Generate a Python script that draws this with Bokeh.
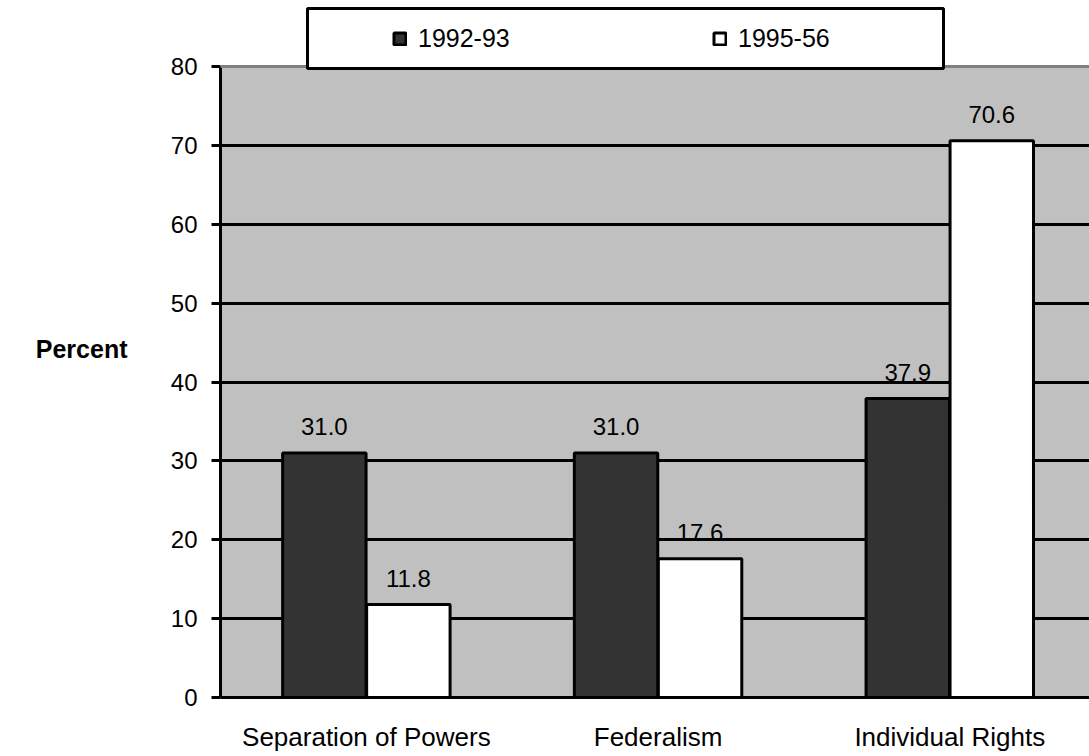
from bokeh.plotting import figure
from bokeh.models import (Range1d, FixedTicker, ColumnDataSource, Legend, LegendItem,
                          Span, BoxAnnotation, LinearAxis)
from bokeh.core.properties import value
from bokeh.embed import file_html
from bokeh.resources import INLINE
import numpy as np

categories = ["Separation of Powers", "Federalism", "Individual Rights"]
series_names = ["1992-93", "1995-56"]
values_9293 = [31.0, 31.0, 37.9]
values_9556 = [11.8, 17.6, 70.6]
y_ticks = [0, 10, 20, 30, 40, 50, 60, 70, 80]

FONT = "Liberation Sans"
xs = np.arange(len(categories)) + 0.5
off = 0.144
bw = 0.286
ymax = y_ticks[-1]
y_top = ymax + 66 / 7.8875   # frame extends above the 80 line to hold the legend

src = ColumnDataSource(dict(
    x1=xs - off, x2=xs + off,
    v1=values_9293, v2=values_9556,
    t1=["%.1f" % v for v in values_9293],
    t2=["%.1f" % v for v in values_9556],
))

p = figure(width=1089, height=756, x_range=Range1d(0, 2.979), y_range=Range1d(0, y_top),
           output_backend="svg", toolbar_location=None,
           min_border_left=220, min_border_top=0, min_border_bottom=59, min_border_right=0)
p.background_fill_color = "white"
p.border_fill_color = "white"
p.outline_line_color = None

# gray plot area from 0 to 80
p.add_layout(BoxAnnotation(bottom=0, top=ymax, fill_color="#c0c0c0", fill_alpha=1.0,
                           line_color=None, line_alpha=0, level="image"))

# grid
p.xgrid.visible = False
p.ygrid.ticker = FixedTicker(ticks=y_ticks[1:-1])
p.ygrid.grid_line_color = "black"
p.ygrid.grid_line_width = 3
p.add_layout(Span(location=ymax, dimension="width", line_color="#808080", line_width=3))

# y axis
ya = p.yaxis[0]
ya.ticker = FixedTicker(ticks=y_ticks)
ya.bounds = (0, ymax)
ya.axis_line_width = 3
ya.major_tick_line_width = 3
ya.major_tick_out = 9
ya.major_tick_in = 0
ya.minor_tick_line_color = None
ya.major_label_standoff = 14
ya.major_label_text_font = FONT
ya.major_label_text_font_size = "24px"
ya.major_label_text_color = "black"

# axis carrying only the "Percent" title
ta = LinearAxis(axis_label="Percent",
                axis_label_orientation="horizontal",
                axis_label_text_font=FONT, axis_label_text_font_size="25px",
                axis_label_text_font_style="bold", axis_label_text_color="black",
                axis_label_standoff=40,
                axis_line_color=None, major_tick_line_color=None,
                minor_tick_line_color=None, major_label_text_font_size="0px",
                ticker=FixedTicker(ticks=[]))
p.add_layout(ta, "left")

# x axis
xa = p.xaxis[0]
xa.ticker = FixedTicker(ticks=list(xs))
xa.major_label_overrides = {float(x): c for x, c in zip(xs, categories)}
xa.axis_line_width = 3
xa.major_tick_line_color = None
xa.minor_tick_line_color = None
xa.major_tick_out = 0
xa.major_tick_in = 0
xa.major_label_standoff = 24
xa.major_label_text_font = FONT
xa.major_label_text_font_size = "26px"
xa.major_label_text_color = "black"

r1 = p.vbar(x="x1", top="v1", width=bw, bottom=0, source=src,
            fill_color="#333333", line_color="black", line_width=3)
r2 = p.vbar(x="x2", top="v2", width=bw, bottom=0, source=src,
            fill_color="white", line_color="black", line_width=3)

for xcol, ycol, tcol in [("x1", "v1", "t1"), ("x2", "v2", "t2")]:
    p.text(x=xcol, y=ycol, text=tcol, source=src, text_align="center",
           text_baseline="alphabetic", y_offset=-26,
           text_font=value(FONT), text_font_size="24px", text_color="black")

# legend box
p.add_layout(BoxAnnotation(left=87, right=723, bottom=629, top=689,
                           left_units="screen", right_units="screen",
                           bottom_units="screen", top_units="screen",
                           fill_color="white", fill_alpha=1.0,
                           line_color="black", line_alpha=1.0, line_width=3))

legend = Legend(items=[LegendItem(label=series_names[0], renderers=[r1]),
                       LegendItem(label=series_names[1], renderers=[r2])],
                orientation="horizontal", location=(172, 644),
                glyph_width=15, glyph_height=15, label_height=30, label_width=130,
                label_standoff=11, spacing=164, padding=0, margin=0,
                border_line_color=None, background_fill_alpha=0,
                label_text_font=FONT, label_text_font_size="25px",
                label_text_color="black", label_text_baseline="middle")
p.add_layout(legend)

open("out.html", "w").write(file_html(p, INLINE))
